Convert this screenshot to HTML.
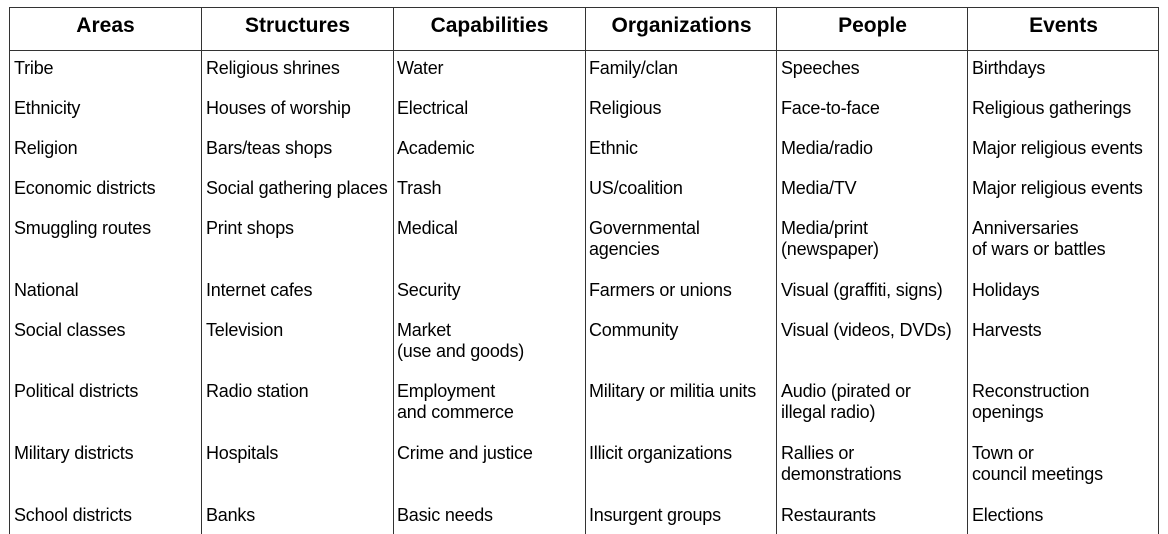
<!DOCTYPE html>
<html><head><style>
html,body{margin:0;width:1168px;height:534px;overflow:hidden}
body{background:#fff;position:relative;font-family:"Liberation Sans",Arial,sans-serif;color:#000}
.v{position:absolute;top:7px;height:527px;width:1px;background:#333}
.h{position:absolute;left:9px;width:1150px;height:1px;background:#333}
.hd{position:absolute;top:13px;width:191px;text-align:center;font-weight:bold;font-size:21px;line-height:26px}
.c{position:absolute;font-size:18px;line-height:21px;white-space:nowrap;letter-spacing:-0.2px}
</style></head><body>
<div class="h" style="top:7px"></div>
<div class="h" style="top:50px"></div>
<div class="v" style="left:9px"></div>
<div class="v" style="left:201px"></div>
<div class="v" style="left:393px"></div>
<div class="v" style="left:585px"></div>
<div class="v" style="left:776px"></div>
<div class="v" style="left:967px"></div>
<div class="v" style="left:1158px"></div>
<div class="hd" style="left:10px">Areas</div>
<div class="hd" style="left:202px">Structures</div>
<div class="hd" style="left:394px">Capabilities</div>
<div class="hd" style="left:586px">Organizations</div>
<div class="hd" style="left:777px">People</div>
<div class="hd" style="left:968px">Events</div>
<div id="t"></div>
<script>
var cols=[14,206,397,589,781,972];
var tops=[58,98,138,178,218,280,320,381,443,505];
var d=[
["Tribe","Ethnicity","Religion","Economic districts","Smuggling routes","National","Social classes","Political districts","Military districts","School districts"],
["Religious shrines","Houses of worship","Bars/teas shops","Social gathering places","Print shops","Internet cafes","Television","Radio station","Hospitals","Banks"],
["Water","Electrical","Academic","Trash","Medical","Security","Market<br>(use and goods)","Employment<br>and commerce","Crime and justice","Basic needs"],
["Family/clan","Religious","Ethnic","US/coalition","Governmental<br>agencies","Farmers or unions","Community","Military or militia units","Illicit organizations","Insurgent groups"],
["Speeches","Face-to-face","Media/radio","Media/TV","Media/print<br>(newspaper)","Visual (graffiti, signs)","Visual (videos, DVDs)","Audio (pirated or<br>illegal radio)","Rallies or<br>demonstrations","Restaurants"],
["Birthdays","Religious gatherings","Major religious events","Major religious events","Anniversaries<br>of wars or battles","Holidays","Harvests","Reconstruction<br>openings","Town or<br>council meetings","Elections"]];
var h="";
for(var i=0;i<6;i++)for(var j=0;j<10;j++)h+='<div class="c" style="left:'+cols[i]+'px;top:'+tops[j]+'px">'+d[i][j]+'</div>';
document.getElementById("t").innerHTML=h;
</script>
</body></html>
